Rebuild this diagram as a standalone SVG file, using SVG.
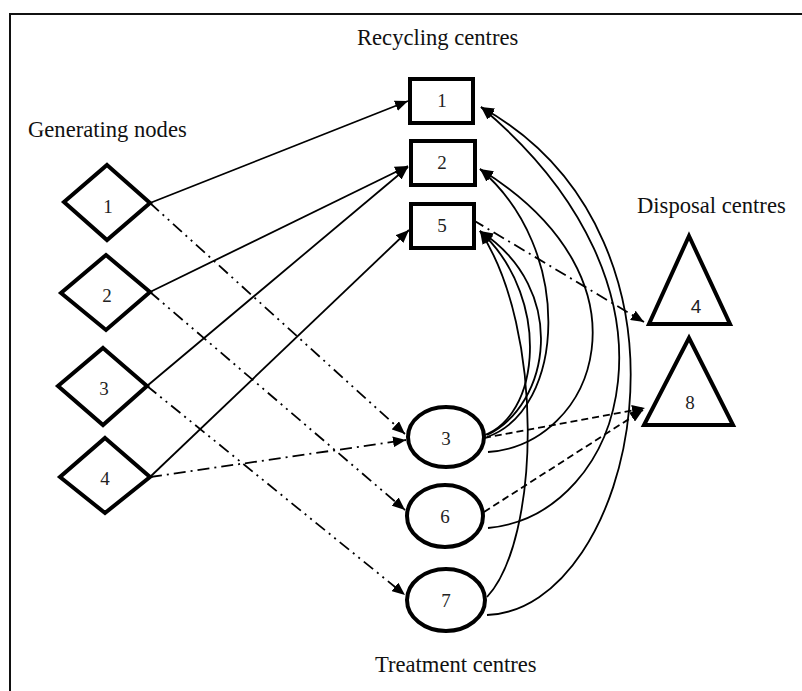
<svg xmlns="http://www.w3.org/2000/svg" width="802" height="691" viewBox="0 0 802 691">
<defs>
<marker id="ah" viewBox="0 0 12 10" refX="12" refY="5" markerWidth="13" markerHeight="11" markerUnits="userSpaceOnUse" orient="auto">
<path d="M0,0 L12,5 L0,10 z" fill="#000"/>
</marker>
<style>
.lbl{font-family:"Liberation Serif","Times New Roman",serif;font-size:22.6px;fill:#111}
.num{font-family:"Liberation Serif","Times New Roman",serif;font-size:19px;fill:#222;text-anchor:middle}
.node{fill:#fff;stroke:#000;stroke-width:4;stroke-linejoin:miter}
.c{fill:none;stroke:#000;stroke-width:1.8;marker-end:url(#ah)}
.dd{stroke-dasharray:12,5,2,5,2,5}
.d1{stroke-dasharray:12,5,2,5}
.ds{stroke-dasharray:7,4}
</style>
</defs>
<rect x="10" y="14" width="800" height="690" fill="#fff" stroke="#111" stroke-width="2"/>
<text class="lbl" x="357" y="45">Recycling centres</text>
<text class="lbl" x="28" y="137">Generating nodes</text>
<text class="lbl" x="637" y="213">Disposal centres</text>
<text class="lbl" x="375" y="672">Treatment centres</text>
<g id="connectors">
<path class="c" d="M150,203 L408,101"/>
<path class="c" d="M150,292 L408,166"/>
<path class="c" d="M147,386 L408,167"/>
<path class="c" d="M150,477 L409,230"/>
<path class="c dd" d="M150,203 L405,434"/>
<path class="c dd" d="M150,292 L405,510"/>
<path class="c dd" d="M147,386 L405,595"/>
<path class="c d1" d="M150,477 L406,440"/>
<path class="c d1" d="M473,220 L644,322"/>
<path class="c ds" d="M484,438 L645,408"/>
<path class="c ds" d="M484,512 L643,410"/>
<path class="c" d="M487,597 C540,540 545,330 480,231"/>
<path class="c" d="M472,438 C540,430 555,300 480,231"/>
<path class="c" d="M487,435 C550,405 570,290 480,231"/>
<path class="c" d="M487,437 C565,410 575,250 480,169"/>
<path class="c" d="M488,452 C595,445 660,280 480,169"/>
<path class="c" d="M488,528 C625,515 700,290 481,107"/>
<path class="c" d="M487,615 C635,610 720,240 481,107"/>
</g>
<g id="g1"><polygon class="node" points="107,165 150,203 107,240 64,202"/><text class="num" x="108" y="213">1</text></g>
<g id="g2"><polygon class="node" points="106,255 150,292 106,330 61,293"/><text class="num" x="107" y="302">2</text></g>
<g id="g3"><polygon class="node" points="103,348 147,386 103,425 58,386"/><text class="num" x="104" y="395">3</text></g>
<g id="g4"><polygon class="node" points="105,438 150,477 105,513 60,477"/><text class="num" x="105" y="485">4</text></g>
<g id="r1"><rect class="node" x="410" y="79" width="63" height="44"/><text class="num" x="442" y="107">1</text></g>
<g id="r2"><rect class="node" x="411" y="141" width="64" height="44"/><text class="num" x="442" y="169">2</text></g>
<g id="r5"><rect class="node" x="411" y="204" width="63" height="44"/><text class="num" x="442" y="232">5</text></g>
<g id="t3"><ellipse class="node" cx="446" cy="437" rx="38" ry="30"/><text class="num" x="446" y="445">3</text></g>
<g id="t6"><ellipse class="node" cx="445" cy="516" rx="38" ry="31"/><text class="num" x="445" y="523">6</text></g>
<g id="t7"><ellipse class="node" cx="446" cy="600" rx="39" ry="31"/><text class="num" x="446" y="607">7</text></g>
<g id="d4"><polygon class="node" points="689,236 730,324 649,324"/><text class="num" x="696" y="313" style="font-family:'Liberation Sans',Arial,sans-serif">4</text></g>
<g id="d8"><polygon class="node" points="689,338 733,425 644,425"/><text class="num" x="690" y="409">8</text></g>
</svg>
